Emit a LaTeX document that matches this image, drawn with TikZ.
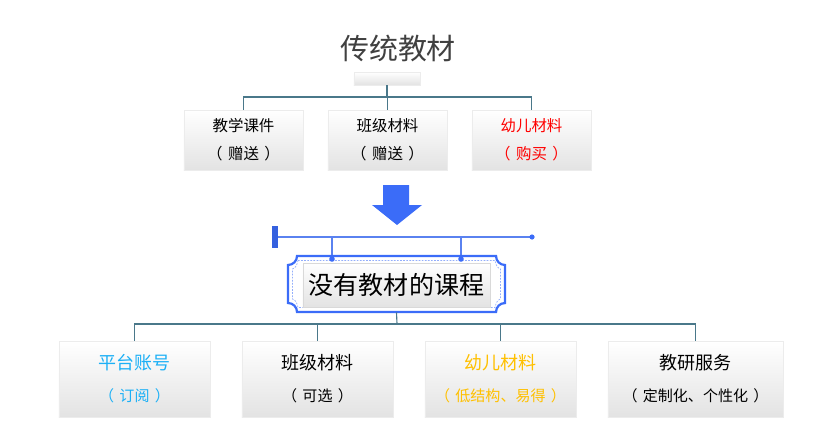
\documentclass[tikz,border=0pt]{standalone}
\usepackage{fontspec}
\setmainfont{Noto Sans CJK SC}
\usepackage{tikz}
\usetikzlibrary{positioning, shadows}
\definecolor{mainblue}{RGB}{59,108,248}
\definecolor{barblue}{RGB}{90,130,240}
\definecolor{linkcol}{RGB}{74,120,138}
\definecolor{skyblue}{RGB}{28,176,246}
\definecolor{gold}{RGB}{255,192,0}
\definecolor{titlegray}{RGB}{64,64,64}
\tikzset{
	card/.style={align=center, draw=gray!15, top color=white, middle color=white, bottom color=gray!22,
		drop shadow={shadow xshift=0.6pt, shadow yshift=-1pt, opacity=0.45, fill=gray!80}},
	topcard/.style={card, minimum width=2.975cm, minimum height=1.5cm, font=\fontsize{11pt}{19.9pt}\selectfont},
	botcard/.style={card, minimum width=3.775cm, minimum height=1.9cm, font=\fontsize{12.8pt}{22.7pt}\selectfont},
	link/.style={draw=linkcol, line width=0.8pt},
	hang/.style={draw=barblue, line width=1.1pt}
}
\newcommand{\paren}[1]{（\hspace{0.35em}#1\hspace{0.35em}）}
\newcommand{\subline}[1]{{\fontsize{10.7pt}{22.7pt}\selectfont\paren{#1}}}

\begin{document}
\begin{tikzpicture}[x=0.025cm, y=-0.025cm]
\useasboundingbox (0,0) rectangle (840,446);
% traditional materials
\node (title) [text=titlegray, font=\fontsize{20.6pt}{24pt}\selectfont] at (398,48) {传统教材};
\node (tbox) [card, minimum width=1.65cm, minimum height=0.325cm, inner sep=0pt] at (387,78.5) {};
\node (t1) [topcard] at (243.5,140) {教学课件\\\paren{赠送}};
\node (t2) [topcard] at (387.5,140) {班级材料\\\paren{赠送}};
\node (t3) [topcard, text=red] at (531.5,140) {幼儿材料\\\paren{购买}};
\coordinate (tj) at (387,97);
\draw[link] (tbox.south) -- (tj); \draw[link] (tj) -| (t1.north);
\draw[link] (tj) -| (t2.north); \draw[link] (tj) -| (t3.north);
% big arrow
\fill[mainblue] (383,185) -- (409,185) -- (409,205) -- (422,205) -- (397,225) -- (372,205) -- (383,205) -- cycle;
% hanging bar
\node (bar) [fill=mainblue!90!black, minimum width=0.15cm, minimum height=0.55cm, inner sep=0pt] at (275,237) {};
\coordinate (barend) at (532,237);
\coordinate (h1) at (332,237); \coordinate (h2) at (461,237);
\coordinate (p1) at (332,259); \coordinate (p2) at (461,259);
\draw[hang] (bar.east) -- (barend);
\draw[hang] (h1) -- (p1); \draw[hang] (h2) -- (p2);
\fill[mainblue] (barend) circle (2.6);
% plaque
\draw[mainblue, line width=1.6pt, fill=white] (297,256) -- (496,256) .. controls (496,261) and (500,265) .. (505,265)
	-- (505,303) .. controls (500,303) and (496,307) .. (496,312) -- (297,312) .. controls (297,307) and (293,303) .. (288,303)
	-- (288,265) .. controls (293,265) and (297,261) .. (297,256) -- cycle;
\draw[mainblue!55, line width=0.5pt, dash pattern=on 1.2pt off 1pt] (298,260.5) -- (495,260.5) .. controls (496,264.5) and (497,268) .. (500.5,269)
	-- (500.5,299) .. controls (497,300) and (496,303.5) .. (495,307.5) -- (298,307.5) .. controls (297,303.5) and (296,300) .. (292.5,299)
	-- (292.5,269) .. controls (296,268) and (297,264.5) .. (298,260.5) -- cycle;
\fill[mainblue] (p1) circle (2.8) (p2) circle (2.8);
\node (core) [draw=gray!30, top color=white, middle color=white, bottom color=gray!22, minimum width=4.675cm, minimum height=1.1cm,
	font=\fontsize{17.8pt}{20pt}\selectfont] at (396.5,285) {没有教材的课程};
\node (plaque) [minimum width=5.425cm, minimum height=1.4cm, inner sep=0pt] at (396.5,284) {};
% new course
\node (b1) [botcard, text=skyblue] at (134.5,379) {平台账号\\\subline{订阅}};
\node (b2) [botcard] at (317.5,379) {班级材料\\\subline{可选}};
\node (b3) [botcard, text=gold] at (500.5,379) {幼儿材料\\\subline{低结构、易得}};
\node (b4) [botcard, minimum width=4.375cm] at (695.5,379) {教研服务\\\subline{定制化、个性化}};
\coordinate (bj) at (397,324);
\draw[link] (plaque.south) -- (bj); \draw[link] (bj) -| (b1.north);
\draw[link] (bj) -| (b2.north); \draw[link] (bj) -| (b3.north);
\draw[link] (bj) -| (b4.north);
\end{tikzpicture}
\end{document}
